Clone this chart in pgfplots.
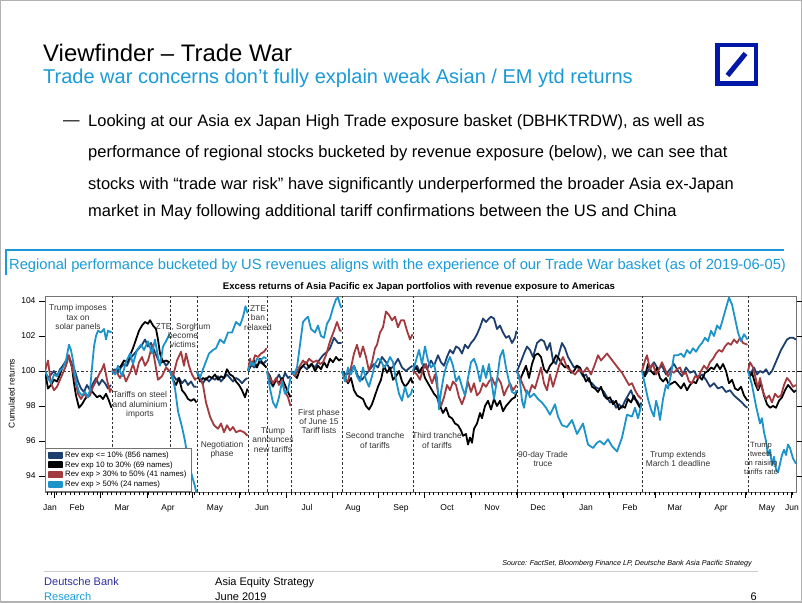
\documentclass[border=0pt]{standalone}
\usepackage{pgfplots}
\pgfplotsset{compat=1.18}
\usepackage{fontspec}
\setmainfont{Liberation Sans}
\definecolor{navyline}{HTML}{1D3F6E}
\definecolor{redline}{HTML}{A33A3F}
\definecolor{cyanline}{HTML}{1C93C9}
\definecolor{dbtext}{HTML}{1A9BD7}
\definecolor{dblogo}{HTML}{0018A8}
\definecolor{dbfoot}{HTML}{2E2E9E}
\definecolor{annot}{HTML}{333333}
\newcommand{\fs}[2]{\fontsize{#1bp}{#2bp}\selectfont}

\begin{document}
\begin{tikzpicture}
\useasboundingbox (0,0) rectangle (802bp,603bp);

% slide furniture, in image coordinates (y down)
\begin{scope}[x=1bp,y=-1bp,yshift=603bp]
\fill[white] (0,0) rectangle (802,603);
\draw[gray!60, line width=1.5bp] (0.75,0.75) rectangle (801.25,602.25);
\node[anchor=base west, inner sep=0, font=\fs{23.9}{26}] at (43,61.5) {Viewfinder – Trade War};
\node[anchor=base west, inner sep=0, font=\fs{20}{22}, text=dbtext] at (43,84) {Trade war concerns don’t fully explain weak Asian / EM ytd returns};
% logo
\draw[dblogo, line width=4.5bp] (717.25,45.25) rectangle (755.75,83.75);
\draw[dblogo, line width=5bp] (727.5,75.5) -- (745.5,53.5);
% bullet
\node[anchor=base west, inner sep=0, font=\fs{16.5}{18}] at (63,126) {—};
\begin{scope}[every node/.style={anchor=base west, inner sep=0, font=\fs{16.5}{18}}]
\node at (88,126.5) {Looking at our Asia ex Japan High Trade exposure basket (DBHKTRDW), as well as};
\node at (88,158) {performance of regional stocks bucketed by revenue exposure (below), we can see that};
\node at (88,189.5) {stocks with “trade war risk” have significantly underperformed the broader Asia ex-Japan};
\node at (88,217) {market in May following additional tariff confirmations between the US and China};
\end{scope}
% chart banner
\draw[dbtext, line width=1.2bp] (5,250) -- (784,250);
\draw[dbtext, line width=1.5bp] (6,250) -- (6,275);
\node[anchor=base west, inner sep=0, font=\fs{14.7}{16}, text=dbtext] at (9,269.5) {Regional performance bucketed by US revenues aligns with the experience of our Trade War basket (as of 2019-06-05)};
\node[anchor=base, inner sep=0, font=\bfseries\fs{9.6}{10}] at (419,289.5) {Excess returns of Asia Pacific ex Japan portfolios with revenue exposure to Americas};
\node[rotate=90, inner sep=0, font=\fs{8.4}{9}] at (11.5,393.5) {Cumulated returns};
% footer
\node[anchor=base east, inner sep=0, font=\itshape\fs{7.2}{8}] at (752,566) {Source: FactSet, Bloomberg Finance LP, Deutsche Bank Asia Pacific Strategy};
\draw[gray!40, line width=1bp] (44,572) -- (758,572);
\node[anchor=base west, inner sep=0, font=\fs{11}{12}, text=dbfoot] at (44,586) {Deutsche Bank};
\node[anchor=base west, inner sep=0, font=\fs{11}{12}, text=dbtext] at (44,601) {Research};
\node[anchor=base west, inner sep=0, font=\fs{11}{12}] at (215,586) {Asia Equity Strategy};
\node[anchor=base west, inner sep=0, font=\fs{11}{12}] at (215,601) {June 2019};
\node[anchor=base east, inner sep=0, font=\fs{11}{12}] at (757,601) {6};
\end{scope}

\begin{axis}[
  at={(45bp,111bp)}, anchor=south west,
  scale only axis, width=751.5bp, height=196bp,
  xmin=45, xmax=796.5, ymin=93.086, ymax=104.286,
  axis line style={draw=gray!90!black, line width=0.8bp},
  tick align=outside, major tick length=6bp,
  tick style={black, line width=0.6bp},
  ytick={94,96,98,100,102,104},
  xtick={50,77,122,168,215,262,307,353,401,447,492,538,586,630,675,721,767,792},
  xticklabels={Jan,Feb,Mar,Apr,May,Jun,Jul,Aug,Sep,Oct,Nov,Dec,Jan,Feb,Mar,Apr,May,Jun},
  xtick style={draw=none},
  /pgf/number format/assume math mode=true,
  ticklabel style={font=\fs{8.5}{9}},
  xticklabel style={yshift=-3bp},
  unbounded coords=jump,
  every axis plot/.append style={line width=1.8bp, line join=round},
  legend style={at={(0,0)}, anchor=south west, draw=gray!90!black, fill=white,
    font=\fs{7.8}{8}, inner xsep=3bp, inner ysep=1.4bp, row sep=-1.3bp,
    line width=0.8bp},
  legend cell align=left,
  legend image code/.code={\fill[#1] (0bp,-2.6bp) rectangle (13bp,2.6bp);},
]
\draw[annot, dash pattern=on 2.5bp off 2bp, line width=0.7bp] (45,100) -- (796.5,100);
\foreach \d in {112,170,197,248,267,291,342,413,517,642,748}{
  \edef\tmp{\noexpand\draw[annot, dash pattern=on 2.5bp off 2bp, line width=0.7bp] (\d,93.086) -- (\d,104.286);}\tmp
}

\addplot[navyline] coordinates {
(45,100) (48,99.6) (51,99.8) (54,100.0) (57,99.7) (60,100.1) (63,100.3) (66,100.6) (69,100.8) (72,100.4) (75,100.0) (78,99.4) (81,99.0) (84,98.8) (87,99.2) (90,98.9) (93,99.3) (96,99.6) (99,99.2) (102,99.5) (105,99.3) (108,99.0) (111,99.2)
(111.5,nan)
(112,100) (115,100.1) (118,99.9) (121,100.2) (124,100.4) (127,100.3) (130,100.7) (133,100.9) (136,101.1) (139,101.3) (142,101.5) (145,101.8) (148,101.4) (151,101.6) (154,101.2) (157,100.8) (160,100.4) (163,100.6) (166,100.3) (169,100.5)
(169.5,nan)
(170,100) (173,99.8) (176,99.5) (179,99.6) (182,99.3) (185,99.5) (188,99.2) (191,99.4) (194,99.1) (196.5,99.1)
(196.8,nan)
(197,100) (200,99.5) (203,99.3) (206,99.6) (209,99.4) (212,99.6) (215,99.5) (218,99.7) (221,99.4) (224,99.6) (227,99.8) (230,99.6) (233,99.4) (236,99.6) (239,99.5) (242,99.3) (245,99.5) (247.5,99.6)
(247.8,nan)
(248,100) (251,100.4) (254,100.2) (257,100.3) (260,100.5) (263,100.4) (266.5,100.6)
(266.8,nan)
(267,100) (270,99.4) (273,99.1) (276,99.5) (279,99.8) (282,99.4) (285,99.9) (288,99.6) (290.5,99.7)
(290.8,nan)
(291,100) (295,99.8) (299,100.1) (303,100.3) (307,100.1) (311,100.4) (315,100.2) (319,100.6) (323,100.9) (327,101.1) (330,101.3) (334,101.9) (338,101.6) (341.5,101.6)
(341.8,nan)
(342,100) (346,99.8) (350,99.9) (354,100.3) (358,99.7) (362,99.5) (366,99.8) (370,100.1) (374,100.4) (378,100.2) (382,100.8) (386,100.5) (390,100.1) (394,100.3) (398,100.7) (402,100.2) (406,100.0) (410,100.2) (412.5,100.3)
(412.8,nan)
(413,100) (417,100.3) (420,99.9) (424,100.4) (427,100.1) (431,100.6) (434,100.3) (438,100.9) (441,100.5) (444,100.3) (447,100.8) (450,101.2) (453,101.0) (456,101.4) (459,101.3) (462,101.0) (465,101.5) (468,101.3) (471,101.6) (474,101.8) (477,102.1) (480,102.5) (483,103.0) (486,102.8) (489,103.0) (491,103.1) (494,103.0) (497,102.4) (500,102.6) (503,102.2) (506,101.9) (509,102.0) (512,101.6) (515,101.9) (516.5,102.3)
(516.8,nan)
(517,100) (520,100.4) (524,101.0) (527,101.4) (530,101.2) (533,100.8) (537,101.6) (541,101.8) (544,101.7) (547,101.2) (550,101.6) (553,100.6) (556,100.4) (559,101.0) (562,101.6) (565,101.3) (568,100.8) (571,100.5) (574,100.2) (577,100.3) (580,100.0) (583,99.7) (586,99.8) (589,99.4) (592,99.3) (595,99.1) (598,99.0) (601,99.0) (604,98.8) (607,98.5) (610,98.2) (613,98.3) (616,97.9) (619,98.1) (622,97.9) (625,98.3) (628,98.6) (631,98.9) (634,98.4) (637,98.3) (640,98.0) (641.5,98.2)
(641.8,nan)
(642,100) (646,99.8) (650,100.2) (654,100.5) (658,100.1) (662,100.3) (666,99.8) (670,100.1) (674,100.4) (678,100.0) (682,99.7) (686,100.2) (690,99.9) (694,100.0) (698,99.6) (702,99.8) (706,99.5) (710,99.1) (714,99.3) (718,99.0) (722,99.1) (726,98.8) (730,98.9) (734,98.6) (738,98.4) (742,98.2) (745,98.0) (747.5,97.9)
(747.8,nan)
(748,100) (751,99.9) (754,100.2) (757,99.8) (760,100.0) (763,99.9) (766,100.1) (769,99.8) (772,100.0) (775,100.4) (778,100.8) (781,101.2) (784,101.5) (787,101.8) (790,101.9) (793,101.9) (796,101.8)
};
\addlegendentry{Rev exp <= 10\% (856 names)}

\addplot[black] coordinates {
(45,100) (48,99.0) (51,99.2) (54,99.5) (57,99.4) (60,99.8) (63,100.3) (66,100.5) (68,100.9) (70,100.6) (72,100.2) (74,99.3) (76,98.6) (79,97.9) (82,98.1) (85,98.4) (88,98.6) (91,98.9) (94,98.7) (97,98.5) (100,98.6) (103,98.4) (106,98.7) (109,98.3) (111.5,97.9)
(111.8,nan)
(112,100) (115,99.9) (118,100.1) (121,100.3) (124,100.6) (127,100.5) (130,100.9) (133,101.3) (136,101.8) (139,102.3) (142,102.6) (145,102.8) (148,102.7) (150,102.9) (153,102.6) (156,102.4) (158,101.8) (160,101.0) (163,100.5) (166,100.6) (169.5,100.5)
(169.8,nan)
(170,100) (173,99.5) (176,99.2) (179,99.6) (182,98.9) (185,98.7) (188,98.4) (191,98.3) (194,98.4) (196.5,98.2)
(196.8,nan)
(197,100) (200,99.4) (203,99.6) (206,99.5) (209,99.7) (212,99.6) (215,99.8) (218,99.5) (221,99.7) (224,99.6) (227,100.1) (230,99.8) (233,99.7) (236,99.4) (239,99.2) (242,98.9) (245,98.5) (247.5,99.0)
(247.8,nan)
(248,100) (251,100.3) (254,100.6) (257,100.2) (260,100.7) (263,100.4) (266.5,100.2)
(266.8,nan)
(267,100) (270,99.7) (273,99.2) (276,99.5) (279,99.3) (282,99.6) (285,99.2) (288,98.8) (290.5,98.5)
(290.8,nan)
(291,100) (294,99.8) (297,99.6) (300,100.1) (303,100.3) (306,100.5) (309,100.2) (312,100.4) (315,100.0) (318,100.3) (321,100.1) (324,100.5) (327,100.2) (330,100.7) (333,100.5) (336,100.8) (339,100.6) (341.5,100.7)
(341.8,nan)
(342,100) (345,99.6) (348,99.3) (351,99.6) (354,98.9) (357,98.6) (360,98.5) (363,98.4) (366,98.0) (369,97.8) (372,98.1) (375,98.6) (378,99.1) (381,99.5) (384,100.3) (387,99.9) (390,100.2) (393,99.5) (396,99.7) (399,100.0) (402,99.4) (405,99.1) (408,99.3) (411,99.6) (412.5,99.3)
(412.8,nan)
(413,100) (416,100.2) (419,99.9) (422,100.2) (425,99.6) (428,99.3) (431,99.0) (434,98.7) (437,98.5) (440,98.0) (443,97.6) (446,97.9) (449,97.4) (452,97.3) (455,97.0) (458,96.9) (461,96.6) (463,96.3) (466,96.4) (468,95.8) (470,96.2) (472,95.9) (474,96.7) (477,97.0) (480,97.6) (482,97.3) (485,98.0) (488,98.3) (491,97.8) (494,98.4) (497,98.0) (500,98.3) (503,97.7) (506,98.0) (509,98.2) (512,98.4) (515,98.5) (516.5,98.8)
(516.8,nan)
(517,100) (520,99.5) (523,99.9) (526,100.3) (529,99.6) (532,100.4) (535,100.9) (538,101.0) (541,100.8) (544,100.1) (547,99.9) (550,100.3) (553,100.5) (556,100.9) (559,100.7) (562,100.4) (565,100.2) (568,100.3) (571,99.9) (574,100.0) (577,100.3) (580,100.2) (583,99.8) (586,99.4) (589,99.6) (592,99.1) (595,99.0) (598,98.8) (601,99.1) (604,98.6) (607,98.4) (610,98.5) (613,98.1) (616,98.3) (619,97.8) (622,98.0) (625,97.9) (628,98.4) (631,98.2) (634,98.6) (637,98.2) (640,97.9) (641.5,98.1)
(641.8,nan)
(642,100) (645,99.7) (648,100.4) (651,100.0) (654,99.8) (657,100.2) (660,99.6) (663,99.4) (666,99.6) (669,99.2) (672,99.3) (675,99.4) (678,99.2) (681,99.0) (684,99.3) (687,98.9) (690,99.2) (693,99.4) (696,99.3) (699,99.7) (702,99.5) (705,99.9) (708,100.0) (711,100.2) (714,100.1) (717,100.4) (720,100.1) (723,100.4) (726,100.0) (729,99.3) (732,99.5) (735,99.0) (738,98.9) (741,99.1) (744,98.6) (747.5,98.3)
(747.8,nan)
(748,100) (750,99.7) (752,99.9) (755,99.3) (758,98.9) (761,99.3) (764,98.6) (767,98.1) (770,97.9) (773,98.0) (776,97.9) (779,98.3) (782,98.5) (785,98.9) (788,99.2) (791,99.0) (794,98.8) (796,98.9)
};
\addlegendentry{Rev exp 10 to 30\% (69 names)}

\addplot[redline] coordinates {
(45,100) (48,100.6) (51,99.3) (54,98.9) (57,99.1) (60,99.5) (63,99.9) (66,100.3) (69,100.9) (72,100.2) (75,99.5) (78,98.7) (81,98.4) (84,98.7) (87,98.5) (90,98.6) (93,99.1) (96,99.4) (99,99.8) (102,100.1) (104,100.4) (107,99.5) (110,98.8) (111.5,99.0)
(111.8,nan)
(112,100) (116,100.0) (120,99.6) (123,99.9) (126,99.4) (130,99.9) (133,100.4) (136,99.8) (139,100.5) (142,100.8) (145,100.3) (148,100.6) (150,101.0) (152,101.5) (155,100.5) (158,99.5) (162,99.7) (166,100.2) (169.5,100.0)
(169.8,nan)
(170,100) (173,99.7) (177,100.6) (181,101.1) (184,100.3) (186,101.0) (189,100.3) (192,99.8) (195,99.5) (196.5,99.6)
(196.8,nan)
(197,100) (200,99.6) (203,99.2) (206,98.2) (210,97.4) (214,96.9) (218,96.7) (221,97.0) (224,96.5) (227,96.9) (230,96.6) (233,96.8) (236,96.5) (240,96.6) (244,96.5) (247.5,96.3)
(247.8,nan)
(248,100) (250,100.7) (252,100.3) (255,100.9) (258,100.8) (261,101.0) (264,101.1) (266.5,101.3)
(266.8,nan)
(267,100) (270,99.6) (273,99.3) (276,99.6) (279,99.2) (282,99.5) (285,98.8) (288,98.5) (290.5,98.0)
(290.8,nan)
(291,100) (295,99.7) (299,100.2) (303,100.6) (306,100.4) (309,100.7) (313,100.5) (317,100.6) (320,100.4) (323,100.5) (326,100.9) (330,101.7) (334,102.3) (337,102.8) (340,102.3) (341.5,102.3)
(341.8,nan)
(342,100) (345,99.5) (348,99.4) (351,100.2) (354,101.0) (357,101.5) (360,100.8) (363,101.4) (366,100.8) (369,100.0) (372,100.5) (375,101.3) (377,101.5) (380,102.2) (383,102.5) (386,103.4) (389,103.2) (392,102.9) (395,103.1) (398,102.5) (401,102.9) (404,102.9) (407,102.3) (410,101.8) (412.5,102.1)
(412.8,nan)
(413,100) (417,99.8) (420,99.5) (423,100.1) (426,100.4) (429,99.8) (432,99.3) (435,99.8) (438,98.8) (441,98.0) (444,98.5) (447,99.2) (450,98.9) (453,99.4) (456,99.2) (459,98.5) (462,98.1) (465,98.6) (468,99.4) (471,98.8) (474,99.3) (477,98.6) (480,98.8) (483,99.3) (486,99.1) (489,99.4) (492,99.6) (495,99.2) (498,99.6) (501,99.3) (504,98.6) (507,99.0) (510,99.3) (513,98.9) (516.5,99.2)
(516.8,nan)
(517,100) (520,99.6) (523,99.2) (526,98.8) (529,98.7) (532,99.2) (535,99.0) (538,99.6) (541,100.2) (544,99.3) (547,98.9) (550,99.8) (553,99.1) (556,99.7) (559,100.3) (563,100.8) (567,100.2) (571,100.0) (575,99.8) (579,100.1) (583,99.9) (587,100.2) (591,99.8) (595,100.4) (598,100.9) (601,100.6) (604,100.8) (607,101.0) (611,100.7) (615,100.4) (619,100.1) (622,99.9) (625,99.6) (629,99.2) (632,99.3) (635,98.9) (638,98.6) (641.5,98.4)
(641.8,nan)
(642,100) (645,100.6) (647,100.9) (650,100.1) (653,100.4) (656,99.8) (659,100.1) (662,100.5) (665,100.1) (668,99.7) (671,100.0) (674,99.9) (677,100.1) (680,100.2) (683,99.8) (686,99.9) (689,99.4) (692,99.3) (695,99.7) (698,99.6) (701,100.0) (704,100.3) (707,100.1) (710,100.5) (713,100.7) (716,101.0) (719,101.2) (722,101.1) (725,101.4) (728,101.6) (731,101.5) (734,101.8) (737,101.6) (740,101.9) (743,101.6) (747.5,101.5)
(747.8,nan)
(748,100) (750,100.5) (753,100.2) (756,99.5) (758,99.0) (760,99.6) (763,98.8) (766,98.4) (769,98.6) (772,98.2) (775,98.7) (778,98.5) (781,98.6) (784,99.2) (787,99.6) (790,99.4) (793,99.1) (796,99.2)
};
\addlegendentry{Rev exp > 30\% to 50\% (41 names)}

\addplot[cyanline] coordinates {
(45,100) (48,99.6) (51,99.3) (54,99.8) (57,99.7) (60,100.0) (63,100.2) (66,100.6) (69,101.5) (71,101.2) (73,100.6) (76,99.4) (79,98.8) (82,98.6) (85,98.8) (88,98.5) (90,98.9) (92,100.2) (94,101.4) (96,102.0) (98,102.3) (101,102.2) (104,102.4) (106,101.8) (108,102.3) (111.5,102.2)
(111.8,nan)
(112,100) (115,99.8) (118,100.3) (122,99.7) (126,100.5) (130,101.0) (133,100.4) (137,101.2) (141,101.5) (144,101.2) (148,101.7) (152,101.0) (155,101.8) (158,100.8) (160,100.3) (163,101.4) (166,101.7) (169.5,102.1)
(169.8,nan)
(170,100) (173,99.5) (175,99.0) (178,97.7) (182,96.8) (185,96.0) (188,94.9) (192,94.0) (195,93.4) (196.5,93.0)
(196.8,nan)
(197,100) (200,99.6) (203,100.1) (205,100.4) (209,101.0) (213,101.2) (216,101.3) (220,101.8) (224,101.6) (228,102.2) (232,102.2) (236,102.8) (240,102.6) (243,103.1) (245.5,103.7) (247.5,103.3)
(247.8,nan)
(248,100) (251,100.5) (254,100.3) (257,100.7) (260,100.6) (264,100.8) (266.5,100.7)
(266.8,nan)
(267,100) (270,99.0) (273,98.2) (276,97.9) (279,98.5) (282,99.4) (285,98.7) (288,98.9) (290.5,99.6)
(290.8,nan)
(291,100) (294,99.8) (297,100.2) (300,101.5) (303,102.8) (306,103.0) (308,103.1) (311,102.4) (315,102.2) (318,102.6) (321,102.0) (324,101.9) (327,102.7) (330,103.0) (333,103.6) (336,104.1) (338,104.2) (340,103.8) (341.5,103.6)
(341.8,nan)
(342,100) (345,99.4) (348,100.2) (351,99.8) (354,100.3) (357,99.7) (360,99.4) (363,100.2) (366,99.5) (369,99.1) (372,99.7) (375,100.4) (378,100.7) (381,100.6) (384,100.2) (387,100.4) (390,100.8) (393,100.5) (396,99.5) (399,98.7) (402,98.3) (405,99.1) (408,98.5) (411,98.7) (412.5,99.0)
(412.8,nan)
(413,100) (416,100.6) (419,101.2) (422,100.4) (425,101.4) (428,100.6) (431,100.2) (434,100.4) (437,99.6) (439,97.8) (441,98.8) (444,99.8) (447,100.4) (450,100.8) (453,100.3) (456,99.4) (459,99.7) (462,99.1) (465,98.6) (468,99.6) (471,100.5) (474,100.7) (477,100.2) (480,99.4) (483,100.3) (486,99.6) (489,100.4) (492,99.2) (494,98.4) (497,99.5) (500,100.8) (503,101.2) (506,100.2) (509,99.4) (512,98.8) (515,98.7) (516.5,98.9)
(516.8,nan)
(517,100) (520,99.4) (522,98.3) (524,97.9) (527,98.9) (530,98.5) (534,98.7) (538,98.4) (542,98.2) (546,97.9) (550,97.5) (555,98.1) (558,97.4) (562,96.9) (567,96.8) (572,97.2) (577,96.4) (583,97.0) (588,95.8) (593,95.6) (597,95.9) (600,96.0) (604,95.8) (608,96.1) (612,95.7) (617,95.4) (622,96.2) (627,97.5) (632,97.4) (635,97.9) (638,97.3) (641.5,98.1)
(641.8,nan)
(642,100) (645,99.2) (648,98.4) (651,97.8) (654,97.4) (656,98.3) (658,97.9) (660,97.2) (663,98.4) (666,99.2) (668,99.0) (671,99.8) (674,100.9) (678,100.9) (681,101.0) (684,100.8) (687,101.2) (690,101.0) (693,101.3) (696,101.1) (699,101.4) (702,101.6) (705,101.9) (708,101.7) (711,102.3) (714,102.0) (717,102.6) (720,102.4) (723,103.0) (726,103.6) (729,104.2) (732,103.8) (735,103.0) (738,102.2) (741,101.7) (744,102.1) (747.5,101.8)
(747.8,nan)
(748,100) (750,99.6) (752,99.2) (754,98.6) (756,98.0) (758,97.5) (760,97.0) (762,97.3) (764,96.5) (766,96.0) (768,95.2) (770,95.5) (772,94.6) (774,95.1) (776,94.4) (778,94.2) (780,94.7) (782,95.2) (784,95.5) (786,95.2) (788,95.8) (790,95.6) (793,95.0) (796,94.7)
};
\addlegendentry{Rev exp > 50\% (24 names)}
\end{axis}

% x-axis tick marks and event notes, in image coordinates
\begin{scope}[x=1bp,y=-1bp,yshift=603bp]
\foreach \t in {47,51.6,...,795}{\draw[black, line width=0.5bp] (\t,492) -- (\t,495);}
\foreach \t in {54,100,147,192,239,286,332,378,424,471,517,563,609,655,699,745,791}{\draw[black, line width=0.6bp] (\t,492) -- (\t,498);}
\begin{scope}[every node/.style={align=center, inner sep=0, text=annot, font=\fs{8.4}{9.3}}]
\node at (78,318) {Trump imposes\\tax on\\solar panels};
\node at (140,405) {Tariffs on steel\\and aluminium\\imports};
\node at (183,335.5) {ZTE, Sorghum\\become\\victims};
\node at (222,449.5) {Negotiation\\phase};
\node at (258,318) {ZTE\\ban\\relaxed};
\node at (273,440) {Trump\\announces\\new tariffs};
\node at (319,421.5) {First phase\\of June 15\\Tariff lists};
\node at (375,440.5) {Second tranche\\of tariffs};
\node at (437,440.5) {Third tranche\\of tariffs};
\node at (543,459) {90-day Trade\\truce};
\node at (678,459) {Trump extends\\March 1 deadline};
\node[font=\fs{7.6}{9}] at (761,458.5) {Trump\\tweets\\on raising\\tariffs rate};
\end{scope}
\end{scope}
\end{tikzpicture}
\end{document}
